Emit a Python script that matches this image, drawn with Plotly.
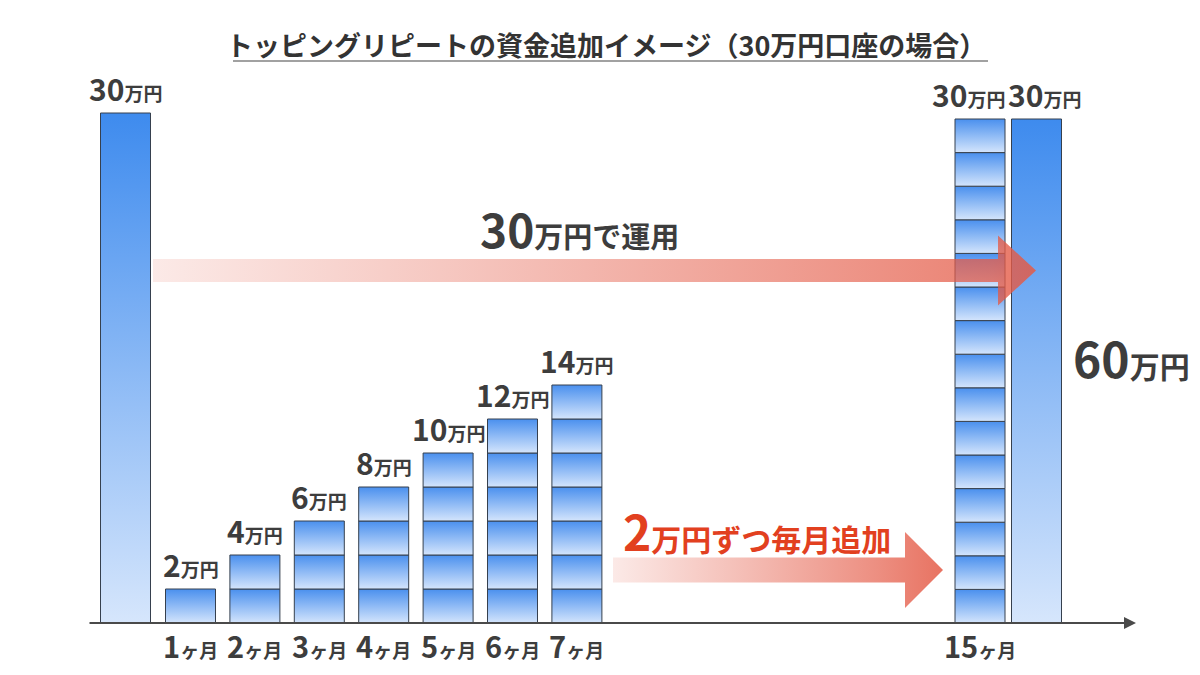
import plotly.graph_objects as go

# ---------------- data ----------------
title_text = "トッピングリピートの資金追加イメージ（30万円口座の場合）"
initial_amount = 30            # 万円 (starting account)
monthly_add = 2                # 万円 added every month
months_shown = [1, 2, 3, 4, 5, 6, 7]
month_totals = [2, 4, 6, 8, 10, 12, 14]   # 万円 added so far
final_month = 15
final_added = 30               # 万円 added by month 15
final_initial = 30             # 万円 original
final_total = 60               # 万円
unit = "万円"
month_unit = "ヶ月"
top_arrow_label = ("30", "万円で運用")
bottom_arrow_label = ("2", "万円ずつ毎月追加")

# ---------------- layout constants ----------------
W, H = 1200, 675
BASE_PX = 623          # pixel row of the value 0
PX_PER_UNIT = 17       # pixels per 万円 (left part of the drawing)
PX_PER_UNIT_R = 16.8   # pixels per 万円 (month-15 group, drawn slightly shorter)
BAR_W = 50
LEFT_X = 125.5
MONTH_X0, MONTH_STEP = 190.5, 64.4
FINAL_STACK_X = 980
FINAL_BAR_X = 1036.5
PIX = "y3"             # overlay axis in pixel units for decorations

FONT = "Noto Sans CJK JP"
DARK = "#3d3d3d"
RED = "#e2401f"
EDGE = "#36404e"
BLOCK_SCALE = [[0, "#d4e5fc"], [1, "#4a90ee"]]
TALL_SCALE = [[0, "#d6e6fc"], [1, "#3e8bee"]]


def rect(xc, y0, y1, scale, yaxis="y"):
    return go.Scatter(
        x=[xc - BAR_W / 2, xc + BAR_W / 2, xc + BAR_W / 2, xc - BAR_W / 2, xc - BAR_W / 2],
        y=[y0, y0, y1, y1, y0], yaxis=yaxis,
        mode="lines", fill="toself",
        fillgradient=dict(type="vertical", colorscale=scale),
        line=dict(color=EDGE, width=1),
        hoverinfo="skip", showlegend=False,
    )


def arrow(x0, xb, xt, yc, h, hh, scale):
    xs = [x0, xb, xb, xt, xb, xb, x0, x0]
    ys = [yc - h, yc - h, yc - hh, yc, yc + hh, yc + h, yc + h, yc - h]
    return go.Scatter(
        x=xs, y=ys, yaxis=PIX, mode="lines", fill="toself",
        fillgradient=dict(type="horizontal", colorscale=scale),
        line=dict(width=0, color="rgba(0,0,0,0)"),
        hoverinfo="skip", showlegend=False,
    )


def rich(big, small, bs, ss):
    return (f'<span style="font-size:{bs}px">{big}</span>'
            f'<span style="font-size:{ss}px">{small}</span>')


fig = go.Figure()

# initial 30万円 bar
fig.add_trace(rect(LEFT_X, 0, initial_amount, TALL_SCALE))

# monthly stacked blocks
month_x = [MONTH_X0 + MONTH_STEP * (m - 1) for m in months_shown]
for xc, tot in zip(month_x, month_totals):
    n = tot // monthly_add
    for k in range(n):
        fig.add_trace(rect(xc, k * monthly_add, (k + 1) * monthly_add, BLOCK_SCALE))

# month 15 stack
for k in range(final_added // monthly_add):
    fig.add_trace(rect(FINAL_STACK_X, k * monthly_add, (k + 1) * monthly_add,
                       BLOCK_SCALE, yaxis="y2"))

# the original 30万円 at month 15
fig.add_trace(rect(FINAL_BAR_X, 0, final_initial, TALL_SCALE, yaxis="y2"))

# arrows (pixel coordinates on overlay axis)
top_scale = [[0, "rgba(228,90,70,0.13)"], [0.35, "rgba(228,90,70,0.35)"],
             [0.65, "rgba(228,90,70,0.55)"], [0.95, "rgba(228,90,70,0.75)"],
             [1, "rgba(228,90,70,0.85)"]]
bot_scale = [[0, "rgba(228,90,70,0.13)"], [0.4, "rgba(228,90,70,0.4)"],
             [0.8, "rgba(228,90,70,0.68)"], [1, "rgba(228,90,70,0.85)"]]
fig.add_trace(arrow(153, 998, 1036, 270.5, 11.5, 35, top_scale))
fig.add_trace(arrow(613, 905, 943, 570, 12.5, 38, bot_scale))

annotations = []

# value labels
def value_label(xc, val, xshift=0, yref="y"):
    annotations.append(dict(
        x=xc, y=val, xref="x", yref=yref, yanchor="bottom", yshift=1, xshift=xshift,
        text=rich(str(val), unit, 30, 19), showarrow=False,
        font=dict(family=FONT, color=DARK, weight="bold")))

value_label(LEFT_X, initial_amount)
for xc, tot in zip(month_x, month_totals):
    value_label(xc, tot)
value_label(FINAL_STACK_X, final_added, xshift=-12, yref="y2")
value_label(FINAL_BAR_X, final_initial, xshift=8, yref="y2")

# month labels
def month_label(xc, m):
    annotations.append(dict(
        x=xc, y=645, xref="x", yref=PIX, yanchor="middle",
        text=rich(str(m), month_unit, 29, 19), showarrow=False,
        font=dict(family=FONT, color=DARK, weight="bold")))

for xc, m in zip(month_x, months_shown):
    month_label(xc, m)
month_label(FINAL_STACK_X, final_month)

# total label
annotations.append(dict(
    x=1071, y=357, xref="x", yref=PIX, xanchor="left", yanchor="middle",
    text=rich(str(final_total), unit, 48, 30), showarrow=False,
    font=dict(family=FONT, color=DARK, weight="bold")))

# arrow texts
annotations.append(dict(
    x=478, y=228, xref="x", yref=PIX, xanchor="left", yanchor="middle",
    text=rich(top_arrow_label[0], top_arrow_label[1], 46, 29), showarrow=False,
    font=dict(family=FONT, color=DARK, weight="bold")))
annotations.append(dict(
    x=621, y=530, xref="x", yref=PIX, xanchor="left", yanchor="middle",
    text=rich(bottom_arrow_label[0], bottom_arrow_label[1], 48, 30), showarrow=False,
    font=dict(family=FONT, color=RED, weight="bold")))

# title
annotations.append(dict(
    x=606, y=44, xref="x", yref=PIX, xanchor="center", yanchor="middle",
    text=title_text, showarrow=False,
    font=dict(family=FONT, color="#333333", size=27, weight="bold")))

# x axis arrow
annotations.append(dict(
    x=1136, y=BASE_PX, ax=88, ay=BASE_PX, xref="x", yref=PIX,
    axref="x", ayref=PIX, text="", showarrow=True,
    arrowhead=2, arrowsize=1.2, arrowwidth=2, arrowcolor="#4a4a4a"))

shapes = [
    dict(type="line", xref="x", yref=PIX, x0=233, x1=988, y0=61, y1=61,
         line=dict(color="#444444", width=1.2)),
]

fig.update_layout(
    width=W, height=H,
    margin=dict(l=0, r=0, t=0, b=0),
    paper_bgcolor="white", plot_bgcolor="white",
    xaxis=dict(range=[0, W], visible=False, fixedrange=True),
    yaxis=dict(range=[-(H - BASE_PX) / PX_PER_UNIT, BASE_PX / PX_PER_UNIT],
               visible=False, fixedrange=True),
    yaxis2=dict(range=[-(H - BASE_PX) / PX_PER_UNIT_R, BASE_PX / PX_PER_UNIT_R],
                overlaying="y", visible=False, fixedrange=True),
    yaxis3=dict(range=[H, 0], overlaying="y", visible=False, fixedrange=True),
    annotations=annotations, shapes=shapes,
    showlegend=False,
)

fig.write_html("out.html", config={"displayModeBar": False})
